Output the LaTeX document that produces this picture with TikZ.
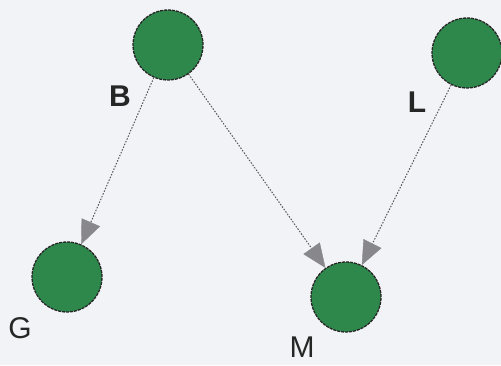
\documentclass[tikz,border=0pt]{standalone}
\usepackage{fontspec}
\setmainfont{Liberation Sans}
\usetikzlibrary{arrows.meta}
\definecolor{bgcol}{RGB}{242,243,247}
\definecolor{nodegreen}{RGB}{46,136,76}
\definecolor{edgegray}{RGB}{85,85,90}
\definecolor{headgray}{RGB}{135,135,140}
\tikzset{
  varnode/.style={circle, minimum size=70pt, inner sep=0pt, fill=nodegreen,
    draw=black!85, line width=1.3pt, dash pattern=on 3pt off 1pt},
  varlabel/.style={font=\fontsize{30}{30}\selectfont, text=black!85},
  link/.style={draw=edgegray, line width=1pt, dash pattern=on 1.5pt off 1.5pt,
    -{Triangle[length=24pt,width=20pt,color=headgray,fill=headgray,line width=0.4pt]}}
}
\begin{document}
\begin{tikzpicture}[x=1pt,y=1pt]
  \useasboundingbox[fill=bgcol] (0,0) rectangle (501,365);
  % variables
  \node[varnode] (B) at (168,320) {};
  \node[varnode] (L) at (467,312) {};
  \node[varnode] (G) at (67,88) {};
  \node[varnode] (M) at (346,68) {};
  % names
  \node[varlabel, font=\fontsize{30}{30}\selectfont\bfseries] (lB) at (120,269) {B};
  \node[varlabel, font=\fontsize{30}{30}\selectfont\bfseries] (lL) at (417,263) {L};
  \node[varlabel] (lG) at (20,37) {G};
  \node[varlabel] (lM) at (302,18) {M};
  % dependencies
  \draw[link] (B) -- (G);
  \draw[link] (B) -- (M);
  \draw[link] (L) -- (M);
\end{tikzpicture}
\end{document}
